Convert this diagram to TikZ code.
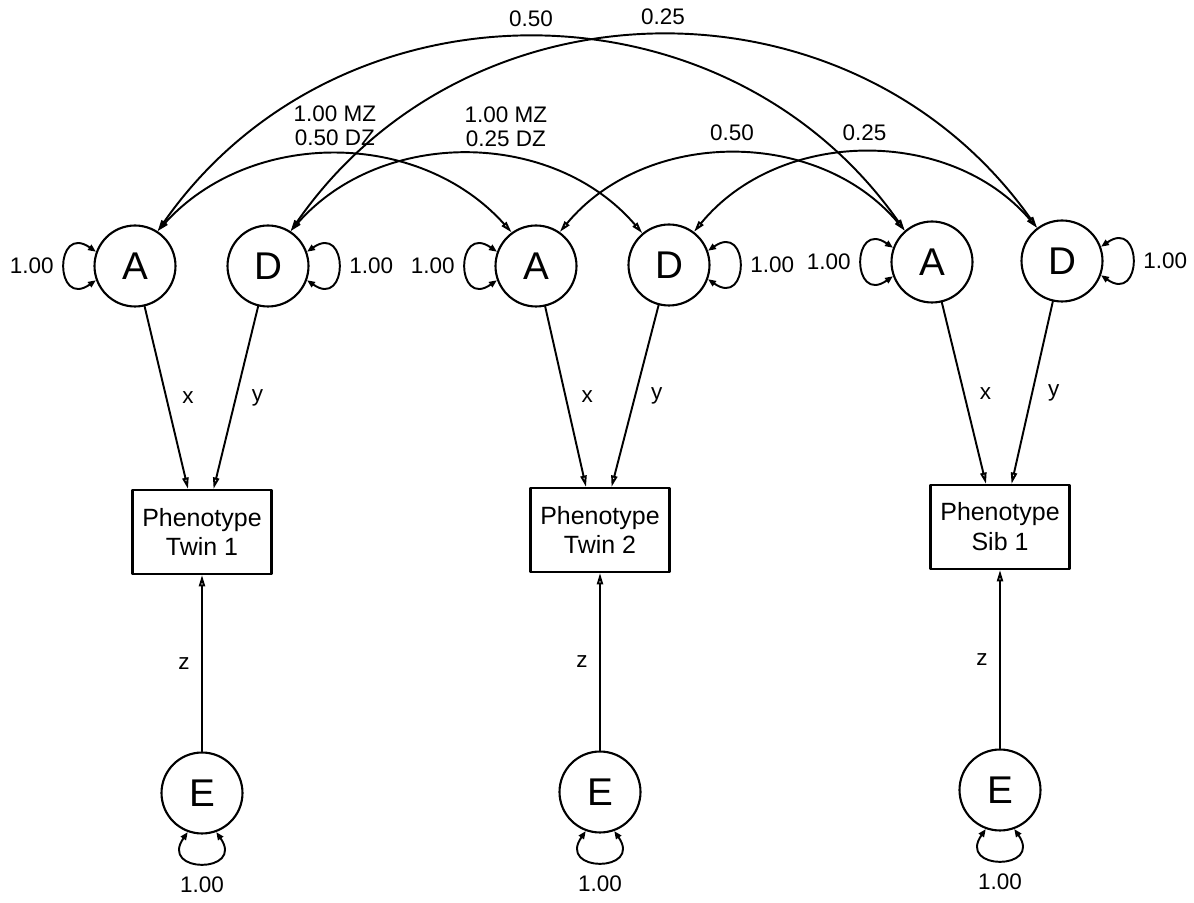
\documentclass[tikz,border=0pt]{standalone}
\usepackage{fontspec}
\setmainfont{Liberation Sans}
\usetikzlibrary{arrows.meta}

\begin{document}
\begin{tikzpicture}[x=0.02cm, y=0.02cm, line join = round, line cap = round,
    latent/.style={circle, draw, line width=1.2pt, minimum size=1.62cm, inner sep=0pt, font=\fontsize{22}{22}\selectfont},
    pheno/.style={rectangle, draw, line width=1.2pt, minimum width=2.78cm, minimum height=1.68cm, inner sep=0pt, align=center, font=\fontsize{14.2}{17}\selectfont},
    lab/.style={inner sep=0pt, align=center, font=\fontsize{12.8}{13.6}\selectfont},
    causal/.style={line width=1.1pt, -{Triangle[open, length=6.5pt, width=3.5pt]}},
    cov/.style={line width=1.1pt, {Triangle[open, length=6.5pt, width=3.5pt]}-{Triangle[open, length=6.5pt, width=3.5pt]}},
    selfvar/.style={line width=1.1pt, {Triangle[length=4.5pt, width=3.5pt]}-{Triangle[length=4.5pt, width=3.5pt]}}]
    \useasboundingbox (0,0) rectangle (1194,903);

    \node[latent] (A1) at (135,637) {A};
    \node[latent] (D1) at (268,637) {D};
    \node[latent] (A2) at (536,637) {A};
    \node[latent] (D2) at (669,638) {D};
    \node[latent] (A3) at (932,641) {A};
    \node[latent] (D3) at (1062,642) {D};

    \node[pheno] (P1) at (202,371) {Phenotype\\Twin 1};
    \node[pheno] (P2) at (600,373) {Phenotype\\Twin 2};
    \node[pheno] (P3) at (1000,376) {Phenotype\\Sib 1};

    \node[latent] (E1) at (202,110) {E};
    \node[latent] (E2) at (600,111) {E};
    \node[latent] (E3) at (1000,113) {E};

    \draw[causal] (A1) -- node[lab, midway, right=0.3cm] {x} (P1.108);
    \draw[causal] (D1) -- node[lab, midway, right=0.3cm] {y} (P1.75);
    \draw[causal] (A2) -- node[lab, midway, right=0.3cm] {x} (P2.108);
    \draw[causal] (D2) -- node[lab, midway, right=0.3cm] {y} (P2.75);
    \draw[causal] (A3) -- node[lab, midway, right=0.3cm] {x} (P3.108);
    \draw[causal] (D3) -- node[lab, midway, right=0.3cm] {y} (P3.75);

    \draw[causal] (E1) -- node[lab, midway, left=0.23cm] {z} (P1);
    \draw[causal] (E2) -- node[lab, midway, left=0.23cm] {z} (P2);
    \draw[causal] (E3) -- node[lab, midway, left=0.23cm] {z} (P3);

    \draw[selfvar] (A1.160) to[out=145, in=215, looseness=4.6] node[lab, midway, left=0.2cm] {1.00} (A1.200);
    \draw[selfvar] (A2.160) to[out=145, in=215, looseness=4.6] node[lab, midway, left=0.2cm] {1.00} (A2.200);
    \draw[selfvar] (A3.160) to[out=145, in=215, looseness=4.6] node[lab, midway, left=0.2cm] {1.00} (A3.200);
    \draw[selfvar] (D1.20) to[out=35, in=-35, looseness=4.6] node[lab, midway, right=0.2cm] {1.00} (D1.-20);
    \draw[selfvar] (D2.20) to[out=35, in=-35, looseness=4.6] node[lab, midway, right=0.2cm] {1.00} (D2.-20);
    \draw[selfvar] (D3.20) to[out=35, in=-35, looseness=4.6] node[lab, midway, right=0.2cm] {1.00} (D3.-20);
    \draw[selfvar] (E1.250) to[out=235, in=305, looseness=4.6] node[lab, midway, below=0.25cm] {1.00} (E1.290);
    \draw[selfvar] (E2.250) to[out=235, in=305, looseness=4.6] node[lab, midway, below=0.25cm] {1.00} (E2.290);
    \draw[selfvar] (E3.250) to[out=235, in=305, looseness=4.6] node[lab, midway, below=0.25cm] {1.00} (E3.290);

    \draw[cov] (A1.57) to[bend left=48] node[lab, midway, above=0.15cm] {1.00 MZ\\0.50 DZ} (A2.126);
    \draw[cov] (D1.57) to[bend left=49] node[lab, pos=0.6, above=0.2cm] {1.00 MZ\\0.25 DZ} (D2.130);
    \draw[cov] (A2.55) to[bend left=50] node[lab, midway, above=0.25cm] {0.50} (A3.131);
    \draw[cov] (D2.53) to[bend left=50] node[lab, midway, above=0.21cm] {0.25} (D3.127);
    \draw[cov] (A1.57) to[bend left=55, looseness=1.08] node[lab, midway, above=0.19cm] {0.50} (A3.131);
    \draw[cov] (D1.57) to[bend left=55, looseness=1.08] node[lab, midway, above=0.19cm] {0.25} (D3.127);
\end{tikzpicture}
\end{document}
